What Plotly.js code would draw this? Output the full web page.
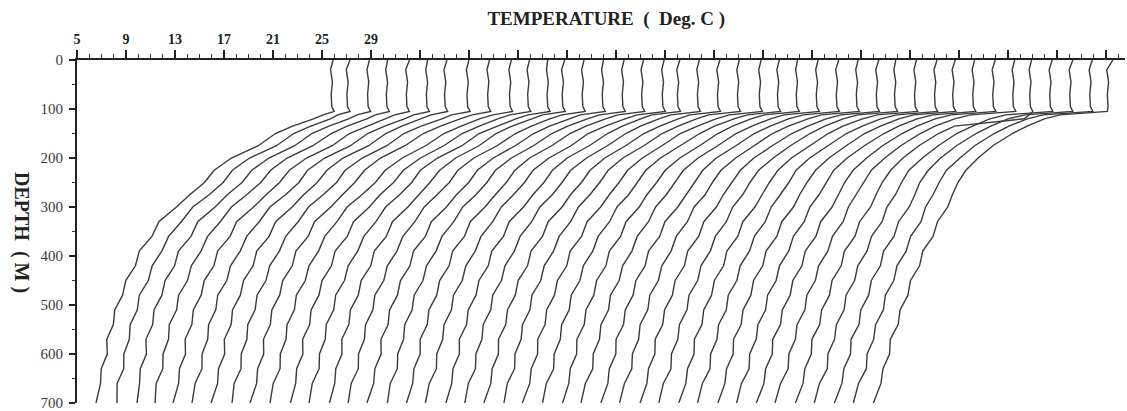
<!DOCTYPE html>
<html>
<head>
<meta charset="utf-8">
<script src="https://cdn.plot.ly/plotly-3.0.1.min.js"></script>
<style>
  html, body { margin: 0; padding: 0; background: #ffffff; }
  #chart { width: 1127px; height: 411px; }
</style>
</head>
<body>
<div id="chart"></div>
<script>
// ---------------- DATA ----------------
// Depth levels (m) shared by every profile
const DEPTHS = [0, 20, 45, 70, 95, 105, 112, 120, 135, 150, 175, 200, 225, 250, 275, 300,
                330, 360, 390, 420, 450, 480, 510, 540, 570, 600, 630, 660, 700];

// Temperature (deg C) of each of the 41 profiles at each depth level (one array per depth)
const t000 = [25.9,25.7,25.7,25.6,25.8,25.7,25.7,25.9,26.0,26.2,26.1,26.0,25.8,25.8,25.8,25.9,25.9,26.0,25.7,25.7,25.8,25.8,26.0,25.9,25.8,25.9,26.0,26.0,26.1,25.9,26.0,26.1,26.0,26.0,26.1,26.1,25.9,26.0,26.1,26.1,26.2];
const t020 = [25.7,25.4,25.5,25.45,25.5,25.55,25.45,25.7,25.8,26.0,25.9,25.9,25.55,25.6,25.65,25.7,25.7,25.8,25.45,25.5,25.55,25.6,25.8,25.7,25.65,25.7,25.75,25.8,25.85,25.75,25.8,25.85,25.75,25.8,25.85,25.9,25.7,25.75,25.8,25.85,25.7];
const t045 = [25.85,25.55,25.65,25.6,25.65,25.7,25.6,25.85,25.95,26.15,26.05,26.05,25.7,25.75,25.8,25.85,25.85,25.95,25.6,25.65,25.7,25.75,25.95,25.85,25.8,25.85,25.9,25.95,26.0,25.9,25.95,26.0,25.9,25.95,26.0,26.05,25.85,25.9,25.95,26.0,25.85];
const t070 = [25.75,25.45,25.55,25.5,25.55,25.6,25.5,25.75,25.85,26.05,25.95,25.95,25.6,25.65,25.7,25.75,25.75,25.85,25.5,25.55,25.6,25.65,25.85,25.75,25.7,25.75,25.8,25.85,25.9,25.8,25.85,25.9,25.8,25.85,25.9,25.95,25.75,25.8,25.85,25.9,25.75];
const t095 = [25.8,25.5,25.6,25.55,25.6,25.65,25.55,25.8,25.9,26.1,26.0,26.0,25.65,25.7,25.75,25.8,25.8,25.9,25.55,25.6,25.65,25.7,25.9,25.8,25.75,25.8,25.85,25.9,25.95,25.85,25.9,25.95,25.85,25.9,25.95,26.0,25.8,25.85,25.9,25.95,25.8];
const t105 = [26.0,25.7,25.8,25.75,25.8,25.85,25.75,26.0,26.1,26.3,26.2,26.2,25.85,25.9,25.95,26.0,26.0,26.1,25.75,25.8,25.85,25.9,26.1,26.0,25.95,26.0,26.05,26.1,26.15,26.05,26.1,26.15,26.05,26.1,26.15,26.2,26.0,26.05,26.1,26.15,25.75];
const t112 = [25.1,24.7,24.7,24.6,24.6,24.55,24.4,24.5,24.6,24.7,24.5,24.4,24.0,24.0,23.9,23.9,23.8,23.8,23.4,23.4,23.35,23.3,23.4,23.3,23.1,23.1,23.1,23.0,23.0,22.8,22.8,22.8,22.6,22.6,22.5,22.5,25.7,22.2,22.2,22.1,21.9];
const t120 = [24.3,24.1,24.0,23.9,23.8,23.8,23.6,23.7,23.6,23.6,23.5,23.4,23.1,23.0,23.0,22.9,22.8,22.8,22.5,22.4,22.4,22.3,22.3,22.2,22.0,22.0,21.9,21.9,21.8,21.6,21.6,21.5,21.4,21.3,21.2,21.2,25.3,20.9,20.8,20.8,20.6];
const t135 = [22.6,22.5,22.4,22.3,22.3,22.2,22.0,22.0,22.0,22.1,22.0,21.9,21.5,21.5,21.4,21.3,21.2,21.2,21.0,20.9,20.9,20.8,20.8,20.6,20.5,20.5,20.4,20.3,20.3,20.1,20.0,20.0,19.9,19.8,19.7,19.6,19.6,19.5,19.4,19.3,19.2];
const t150 = [21.2,21.1,21.0,21.0,20.9,20.8,20.7,20.6,20.6,20.7,20.6,20.4,20.2,20.2,20.1,20.0,19.9,19.8,19.8,19.7,19.6,19.5,19.4,19.4,19.3,19.2,19.1,19.0,19.0,18.9,18.8,18.7,18.6,18.6,18.5,18.4,18.3,18.2,18.2,18.1,18.0];
const t175 = [19.8,19.7,19.6,19.5,19.5,19.4,19.3,19.2,19.1,19.2,19.1,19.0,18.8,18.7,18.6,18.5,18.4,18.4,18.3,18.2,18.1,18.0,17.9,17.8,17.8,17.7,17.6,17.5,17.4,17.3,17.3,17.2,17.1,17.0,16.9,16.8,16.7,16.7,16.6,16.5,16.4];
const t200 = [17.6,17.5,17.5,17.4,17.4,17.3,17.2,17.2,17.1,17.3,17.2,17.0,16.9,16.8,16.8,16.7,16.6,16.6,16.5,16.5,16.4,16.3,16.3,16.2,16.2,16.1,16.0,16.0,15.9,15.9,15.8,15.7,15.7,15.6,15.6,15.5,15.4,15.4,15.3,15.3,15.2];
const t225 = [16.2,16.1,16.1,16.05,16.0,15.9,15.9,15.8,15.8,15.9,15.8,15.6,15.6,15.5,15.5,15.4,15.4,15.3,15.3,15.2,15.2,15.1,15.1,15.0,15.0,14.9,14.9,14.8,14.8,14.7,14.7,14.6,14.6,14.5,14.5,14.4,14.4,14.3,14.3,14.2,14.2];
const t250 = [15.4,15.35,15.3,15.25,15.2,15.2,15.1,15.1,15.0,15.1,15.0,14.9,14.8,14.8,14.8,14.7,14.7,14.6,14.6,14.5,14.5,14.4,14.4,14.3,14.3,14.2,14.2,14.1,14.1,14.0,14.0,14.0,13.9,13.9,13.8,13.8,13.7,13.7,13.6,13.6,13.55];
const t275 = [14.2,14.2,14.1,14.1,14.1,14.1,14.0,14.0,14.0,14.0,13.9,13.9,13.9,13.8,13.8,13.8,13.8,13.7,13.7,13.7,13.6,13.6,13.6,13.6,13.5,13.5,13.5,13.5,13.4,13.4,13.4,13.3,13.3,13.3,13.3,13.2,13.2,13.2,13.2,13.1,13.1];
const t300 = [13.12,12.87,13.10,12.85,13.08,12.83,13.06,12.81,13.04,12.79,13.02,12.77,13.00,12.75,12.98,12.73,12.96,12.71,12.94,12.69,12.92,12.67,12.90,12.65,12.88,12.63,12.86,12.61,12.84,12.59,12.82,12.57,12.80,12.55,12.78,12.53,12.76,12.51,12.74,12.49,12.72];
const t330 = [11.68,11.93,11.69,11.94,11.70,11.95,11.71,11.96,11.72,11.97,11.73,11.98,11.74,11.99,11.75,12.00,11.76,12.01,11.77,12.02,11.78,12.03,11.79,12.04,11.80,12.05,11.81,12.06,11.82,12.07,11.83,12.08,11.84,12.09,11.85,12.10,11.86,12.11,11.87,12.12,11.88];
const t360 = [11.12,10.89,11.14,10.91,11.16,10.93,11.18,10.95,11.20,10.97,11.22,10.99,11.24,11.01,11.26,11.03,11.28,11.05,11.30,11.07,11.32,11.09,11.34,11.11,11.36,11.13,11.38,11.15,11.40,11.17,11.42,11.19,11.44,11.21,11.46,11.23,11.48,11.25,11.50,11.27,11.52];
const t390 = [10.08,10.34,10.11,10.37,10.14,10.40,10.17,10.43,10.20,10.46,10.23,10.49,10.26,10.52,10.29,10.55,10.32,10.58,10.35,10.61,10.38,10.64,10.41,10.67,10.44,10.70,10.47,10.73,10.50,10.76,10.53,10.79,10.56,10.82,10.59,10.85,10.62,10.88,10.65,10.91,10.68];
const t420 = [9.77,9.55,9.80,9.58,9.84,9.61,9.87,9.64,9.90,9.68,9.93,9.71,9.97,9.74,10.00,9.77,10.03,9.81,10.06,9.84,10.10,9.87,10.13,9.90,10.16,9.94,10.19,9.97,10.23,10.00,10.26,10.03,10.29,10.07,10.32,10.10,10.36,10.13,10.39,10.16,10.42];
const t450 = [8.98,9.24,9.02,9.27,9.05,9.31,9.09,9.34,9.12,9.38,9.16,9.41,9.19,9.45,9.23,9.48,9.26,9.52,9.30,9.55,9.33,9.59,9.37,9.62,9.40,9.66,9.44,9.69,9.47,9.73,9.51,9.76,9.54,9.80,9.58,9.83,9.61,9.87,9.65,9.90,9.68];
const t480 = [8.72,8.50,8.76,8.54,8.80,8.57,8.83,8.61,8.87,8.65,8.91,8.69,8.95,8.72,8.98,8.76,9.02,8.80,9.06,8.84,9.10,8.87,9.13,8.91,9.17,8.95,9.21,8.99,9.25,9.02,9.28,9.06,9.32,9.10,9.36,9.14,9.40,9.17,9.43,9.21,9.47];
const t510 = [8.08,8.34,8.12,8.38,8.16,8.41,8.19,8.45,8.23,8.49,8.27,8.53,8.31,8.56,8.34,8.60,8.38,8.64,8.42,8.68,8.46,8.71,8.49,8.75,8.53,8.79,8.57,8.83,8.61,8.86,8.64,8.90,8.68,8.94,8.72,8.98,8.76,9.01,8.79,9.05,8.83];
const t540 = [7.97,7.75,8.01,7.78,8.04,7.82,8.08,7.85,8.11,7.89,8.15,7.92,8.18,7.96,8.22,7.99,8.25,8.03,8.29,8.06,8.32,8.10,8.36,8.13,8.39,8.17,8.43,8.20,8.46,8.24,8.50,8.27,8.53,8.31,8.57,8.34,8.60,8.38,8.64,8.41,8.67];
const t570 = [7.43,7.69,7.46,7.72,7.49,7.75,7.52,7.78,7.55,7.81,7.58,7.84,7.61,7.87,7.64,7.90,7.67,7.93,7.70,7.96,7.73,7.99,7.76,8.02,7.79,8.05,7.82,8.08,7.85,8.11,7.88,8.14,7.91,8.17,7.94,8.20,7.97,8.23,8.00,8.26,8.03];
const t600 = [7.47,7.24,7.50,7.27,7.52,7.29,7.55,7.32,7.57,7.34,7.60,7.37,7.62,7.39,7.65,7.42,7.67,7.44,7.70,7.47,7.72,7.49,7.75,7.52,7.77,7.54,7.80,7.57,7.82,7.59,7.85,7.62,7.87,7.64,7.90,7.67,7.92,7.69,7.95,7.72,7.97];
const t630 = [6.98,7.23,7.00,7.25,7.03,7.28,7.05,7.30,7.07,7.32,7.09,7.34,7.12,7.37,7.14,7.39,7.16,7.41,7.18,7.43,7.21,7.46,7.23,7.48,7.25,7.50,7.27,7.52,7.30,7.55,7.32,7.57,7.34,7.59,7.36,7.61,7.39,7.64,7.41,7.66,7.43];
const t660 = [6.92,6.69,6.94,6.71,6.96,6.72,6.97,6.74,6.99,6.76,7.01,6.78,7.03,6.79,7.04,6.81,7.06,6.83,7.08,6.85,7.10,6.86,7.11,6.88,7.13,6.90,7.15,6.92,7.17,6.93,7.18,6.95,7.20,6.97,7.22,6.99,7.24,7.00,7.25,7.02,7.27];
const t700 = [6.55,6.68,6.73,6.62,6.50,6.47,6.44,6.57,6.45,6.50,6.58,6.52,6.60,6.54,6.49,6.58,6.55,6.51,6.60,6.56,6.53,6.59,6.50,6.57,6.62,6.54,6.58,6.52,6.61,6.56,6.60,6.55,6.63,6.57,6.60,6.54,6.62,6.58,6.64,6.60,6.65];

const LEVELS = [t000,t020,t045,t070,t095,t105,t112,t120,t135,t150,t175,t200,t225,t250,t275,t300,
                t330,t360,t390,t420,t450,t480,t510,t540,t570,t600,t630,t660,t700];

// Each successive profile is shifted right by this many degrees (stacked display)
const OFFSET_STEP = 1.584;

// Temperature axis tick labels (only the first few are printed)
const X_TICK_VALUES = [5,9,13,17,21,25,29,33,37,41,45,49,53,57,61,65,69,73,77,81,85,89];
const X_TICK_LABELS = ['5','9','13','17','21','25','29','','','','','','','','','','','','','','',''];
const Y_TICK_VALUES = [0,100,200,300,400,500,600,700];
const Y_TICK_LABELS = ['0','100','200','300','400','500','600','700'];

// ---------------- BUILD ----------------
const nProfiles = t000.length;
const traces = [];
for (let i = 0; i < nProfiles; i++) {
  traces.push({
    type: 'scatter',
    mode: 'lines',
    x: LEVELS.map(row => row[i] + i * OFFSET_STEP),
    y: DEPTHS,
    line: { color: '#3a3a3a', width: 1.4 },
    hoverinfo: 'skip',
    showlegend: false
  });
}

const SERIF = 'Liberation Serif, Times New Roman, serif';

const layout = {
  width: 1127,
  height: 411,
  margin: { l: 77, r: 2, t: 60, b: 8 },
  paper_bgcolor: '#ffffff',
  plot_bgcolor: '#ffffff',
  showlegend: false,
  title: {
    text: 'TEMPERATURE\u00a0\u00a0(\u00a0\u00a0Deg.\u00a0C\u00a0)',
    font: { family: SERIF, size: 19, color: '#222222', weight: 'bold' },
    xref: 'paper', x: 0.505, xanchor: 'center',
    yref: 'container', y: 0.956, yanchor: 'middle'
  },
  xaxis: {
    side: 'top',
    range: [5, 90.55],
    autorange: false,
    showgrid: false,
    zeroline: false,
    showline: true,
    linecolor: '#222222',
    linewidth: 2,
    ticks: 'outside',
    ticklen: 8,
    tickwidth: 1.3,
    tickcolor: '#222222',
    tickmode: 'array',
    tickvals: X_TICK_VALUES,
    ticktext: X_TICK_LABELS,
    tickfont: { family: SERIF, size: 14, color: '#222222', weight: 'bold' },
    ticklabeloverflow: 'allow',
    minor: { ticks: 'outside', ticklen: 4, tickmode: 'linear', tick0: 5, dtick: 1, tickcolor: '#333333', tickwidth: 1 },
    fixedrange: true
  },
  yaxis: {
    range: [700, 0],
    autorange: false,
    showgrid: false,
    zeroline: false,
    showline: true,
    linecolor: '#222222',
    linewidth: 2,
    ticks: 'outside',
    ticklen: 6,
    tickwidth: 1.3,
    tickcolor: '#222222',
    tickmode: 'array',
    tickvals: Y_TICK_VALUES,
    ticktext: Y_TICK_LABELS,
    tickfont: { family: SERIF, size: 15, color: '#3a3a3a' },
    ticklabelstandoff: 3,
    ticklabeloverflow: 'allow',
    minor: { ticks: 'outside', ticklen: 3, tickmode: 'linear', tick0: 0, dtick: 50, tickcolor: '#333333', tickwidth: 1 },
    fixedrange: true
  },
  annotations: [{
    text: 'DEPTH\u00a0\u00a0(\u00a0M\u00a0)',
    textangle: 90,
    xref: 'paper', x: -0.0525, xanchor: 'center',
    yref: 'paper', y: 0.4956, yanchor: 'middle',
    showarrow: false,
    font: { family: SERIF, size: 20, color: '#222222', weight: 'bold' }
  }]
};

Plotly.newPlot('chart', traces, layout, { displayModeBar: false, staticPlot: true });
</script>
</body>
</html>
